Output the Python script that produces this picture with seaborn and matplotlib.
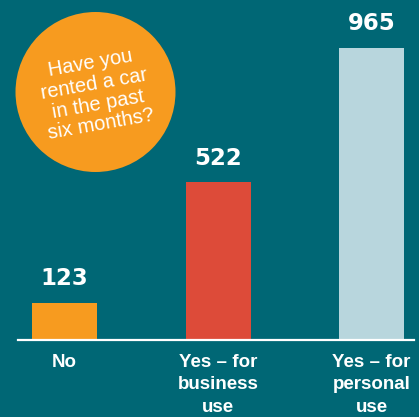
import pandas as pd
import seaborn as sns
import matplotlib.pyplot as plt
from matplotlib.patches import Circle

# data
categories = ["No", "Yes – for\nbusiness\nuse", "Yes – for\npersonal\nuse"]
values = [123, 522, 965]
bar_colors = ["#f79b1f", "#dd4b39", "#b8d6dd"]
question = "Have you\nrented a car\nin the past\nsix months?"

BG = "#006775"


def plot():
    df = pd.DataFrame({"answer": categories, "count": values})

    fig = plt.figure(figsize=(4.19, 4.17), dpi=100)
    fig.patch.set_facecolor(BG)
    ax = fig.add_axes([0, 0, 1, 1])
    ax.set_facecolor(BG)

    sns.barplot(
        data=df, x="answer", y="count", hue="answer",
        palette=bar_colors, width=0.4235, legend=False, ax=ax,
        saturation=1, linewidth=0,
    )
    ax.set_xlim(-0.420, 2.309)
    ax.set_ylim(-254.5, 1123.6)
    ax.axis("off")

    # baseline
    ax.axhline(0, xmin=0.043, xmax=0.988, color="white", lw=1.6, zorder=5)

    for cont in ax.containers:
        ax.bar_label(cont, padding=9, color="white", fontsize=16.5,
                     fontweight="bold", family="DejaVu Sans")

    for i, lab in enumerate(categories):
        ax.text(i, -45, lab, ha="center", va="top", color="white",
                fontsize=13.5, fontweight="bold", family="Liberation Sans",
                linespacing=1.42)

    # orange bubble with the question
    circ = Circle((0.955, 4.17 - 0.92), 0.80, transform=fig.dpi_scale_trans,
                  facecolor="#f79b1f", edgecolor="none", zorder=6)
    fig.patches.append(circ)
    fig.text(96 / 419, 1 - 94 / 417, question, ha="center", va="center",
             rotation=10, rotation_mode="anchor", multialignment="center",
             color="white", fontsize=14.5, family="Liberation Sans",
             linespacing=1.12, zorder=7)

    fig.savefig("out.png", dpi=100, facecolor=BG)


if __name__ == "__main__":
    plot()
